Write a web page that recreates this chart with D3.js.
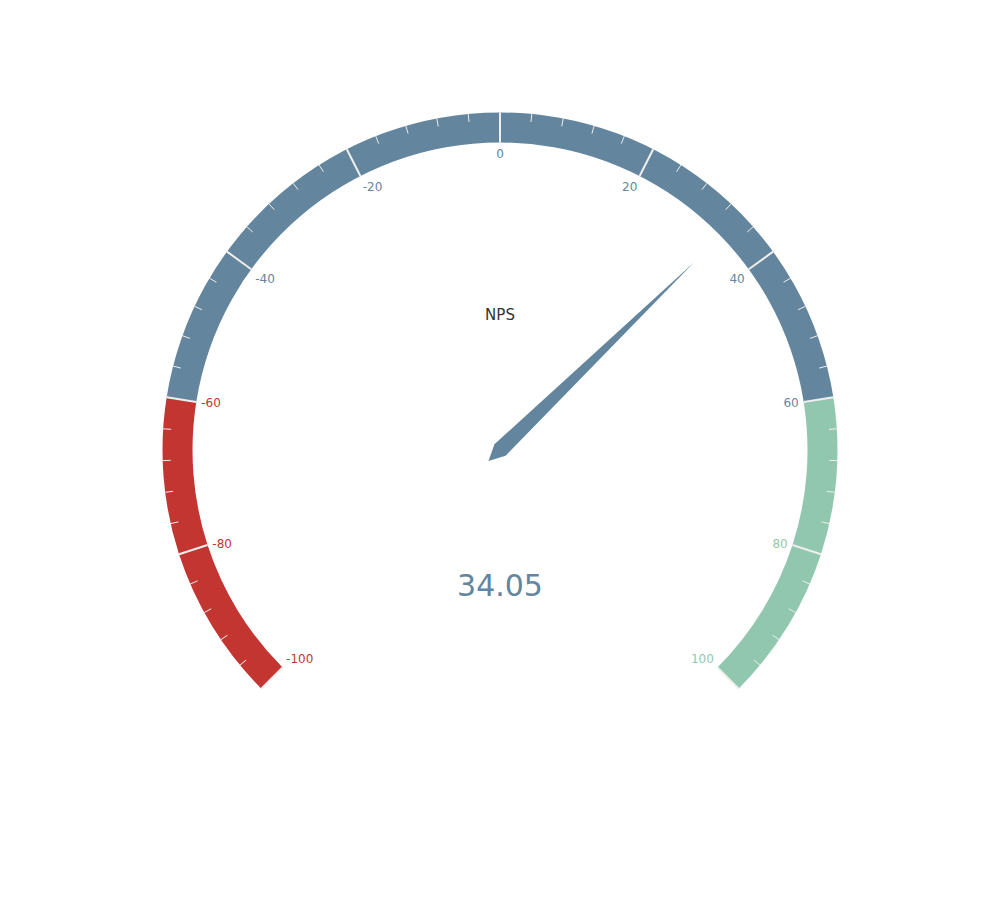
<!DOCTYPE html>
<html>
<head>
<meta charset="utf-8">
<script src="https://cdn.jsdelivr.net/npm/d3@7"></script>
<style>
  html, body { margin: 0; padding: 0; background: #fff; }
  #gauge { width: 1000px; height: 900px; }
</style>
</head>
<body>
<div id="gauge"></div>
<script>
// gauge data
const gaugeName = "NPS";
const gaugeValue = 34.05;
const gaugeMin = -100;
const gaugeMax = 100;
const bandStops = [0.2, 0.8, 1];
const bandColors = ["#c23531", "#63869e", "#91c7ae"];
const tickLabels = [-100, -80, -60, -40, -20, 0, 20, 40, 60, 80, 100];
const minorPerSplit = 5;

var width = 1000;
var height = 900;
var radius = Math.min(width, height) / 2 * 0.75;
var lineWidth = 30;
var font = "'DejaVu Sans', sans-serif";

var svg = d3.select("#gauge")
  .append("svg")
  .attr("width", width)
  .attr("height", height);

var g = svg.append("g")
  .attr("transform", "translate(" + (width / 2) + "," + (height / 2) + ")");

// value -> d3 angle (0 at top, clockwise)
var angle = d3.scaleLinear()
  .domain([gaugeMin, gaugeMax])
  .range([-3 * Math.PI / 4, 3 * Math.PI / 4]);

var frac = d3.scaleLinear().domain([gaugeMin, gaugeMax]).range([0, 1]);

function colorOf(v) {
  var f = frac(v);
  for (var i = 0; i < bandStops.length; i++) {
    if (f <= bandStops[i] + 1e-9) return bandColors[i];
  }
  return bandColors[bandColors.length - 1];
}

// axis line bands
var arc = d3.arc()
  .innerRadius(radius - lineWidth)
  .outerRadius(radius);

var bands = bandStops.map(function(s, i) {
  return {
    start: angle(frac.invert(i === 0 ? 0 : bandStops[i - 1])),
    end: angle(frac.invert(s)),
    color: bandColors[i]
  };
});

g.selectAll("path.band")
  .data(bands)
  .enter()
  .append("path")
  .attr("class", "band")
  .attr("d", function(d) { return arc({ startAngle: d.start, endAngle: d.end }); })
  .attr("fill", function(d) { return d.color; });

// minor ticks
var step = (tickLabels[1] - tickLabels[0]) / minorPerSplit;
var minor = d3.range(gaugeMin, gaugeMax + step / 2, step);

g.selectAll("line.tick")
  .data(minor)
  .enter()
  .append("line")
  .attr("class", "tick")
  .attr("x1", function(d) { return Math.sin(angle(d)) * radius; })
  .attr("y1", function(d) { return -Math.cos(angle(d)) * radius; })
  .attr("x2", function(d) { return Math.sin(angle(d)) * (radius - 8); })
  .attr("y2", function(d) { return -Math.cos(angle(d)) * (radius - 8); })
  .attr("stroke", "#eee")
  .attr("stroke-width", 1);

// split lines
g.selectAll("line.split")
  .data(tickLabels)
  .enter()
  .append("line")
  .attr("class", "split")
  .attr("x1", function(d) { return Math.sin(angle(d)) * radius; })
  .attr("y1", function(d) { return -Math.cos(angle(d)) * radius; })
  .attr("x2", function(d) { return Math.sin(angle(d)) * (radius - lineWidth); })
  .attr("y2", function(d) { return -Math.cos(angle(d)) * (radius - lineWidth); })
  .attr("stroke", "#eee")
  .attr("stroke-width", 2);

// labels
var labelR = radius - lineWidth - 5;
g.selectAll("text.label")
  .data(tickLabels)
  .enter()
  .append("text")
  .attr("class", "label")
  .attr("x", function(d) { return Math.sin(angle(d)) * labelR; })
  .attr("y", function(d) { return -Math.cos(angle(d)) * labelR; })
  .attr("text-anchor", function(d) {
    var ux = Math.sin(angle(d));
    return ux < -0.4 ? "start" : (ux > 0.4 ? "end" : "middle");
  })
  .attr("dy", function(d) {
    var uy = -Math.cos(angle(d));
    return uy < -0.4 ? "0.9em" : (uy > 0.4 ? "-0.1em" : "0.35em");
  })
  .attr("font-family", font)
  .attr("font-size", 12)
  .attr("fill", function(d) { return colorOf(d); })
  .text(function(d) { return d; });

// title
g.append("text")
  .attr("x", 0)
  .attr("y", -radius * 0.4)
  .attr("dy", "0.35em")
  .attr("text-anchor", "middle")
  .attr("font-family", font)
  .attr("font-size", 15)
  .attr("fill", "#333")
  .text(gaugeName);

// pointer
var pa = angle(gaugeValue);
var len = radius * 0.8;
var hw = 8;
var ux = Math.sin(pa), uy = -Math.cos(pa);
var px = -uy, py = ux;
var pts = [
  [-ux * hw * 2, -uy * hw * 2],
  [px * hw, py * hw],
  [ux * len, uy * len],
  [-px * hw, -py * hw]
];
g.append("path")
  .attr("d", d3.line()(pts) + "Z")
  .attr("fill", colorOf(gaugeValue));

// detail
g.append("text")
  .attr("x", 0)
  .attr("y", radius * 0.4)
  .attr("dy", "0.35em")
  .attr("text-anchor", "middle")
  .attr("font-family", font)
  .attr("font-size", 30)
  .attr("fill", colorOf(gaugeValue))
  .text(gaugeValue);
</script>
</body>
</html>
